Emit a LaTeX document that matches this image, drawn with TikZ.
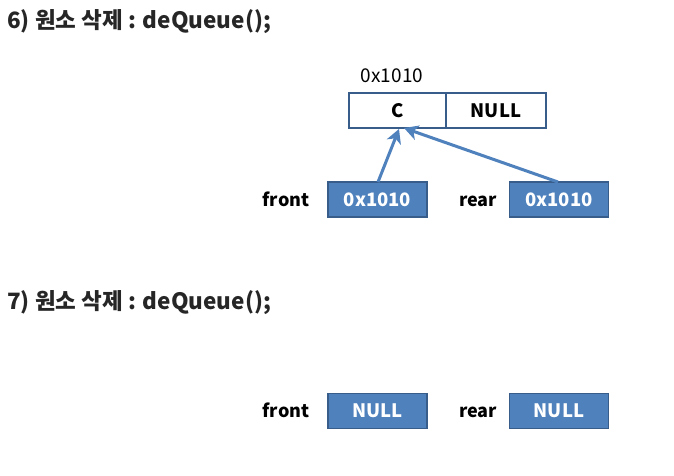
\documentclass[tikz,border=0pt]{standalone}
\usepackage{fontspec}
\setmainfont{Noto Sans CJK KR}
\usetikzlibrary{arrows.meta}
\definecolor{boxblue}{HTML}{4F81BD}
\definecolor{boxedge}{HTML}{385D8A}
\definecolor{titlegray}{HTML}{262626}
\tikzset{
  ptrbox/.style={draw=boxedge, line width=1.2pt, fill=boxblue, text=white, font=\fontsize{18.5}{20}\selectfont\bfseries, minimum width=99pt, minimum height=35pt, inner sep=0pt},
  cellbox/.style={draw=boxedge, line width=1.2pt, fill=white, text=black, font=\fontsize{18.5}{20}\selectfont\bfseries, minimum height=35pt, inner sep=0pt},
  lbl/.style={font=\fontsize{18}{20}\selectfont\bfseries, text=black, inner sep=0pt, anchor=base},
  title/.style={font=\fontsize{22.5}{26}\selectfont\bfseries, text=titlegray, inner sep=0pt, anchor=west},
  ptr/.style={draw=boxblue, line width=3pt, -{Stealth[length=14pt,width=15pt,inset=4pt]}}
}
\begin{document}
\begin{tikzpicture}[x=1pt,y=-1pt]
\useasboundingbox (0,0) rectangle (674,475);
\node[title] (t6) at (7,22) {6) 원소 삭제 : deQueue();};
\node[title] (t7) at (7,303) {7) 원소 삭제 : deQueue();};
% node
\node[cellbox, minimum width=97pt] (c) at (397.5,110.5) {C};
\node[cellbox, minimum width=100pt] (n) at (496,110.5) {NULL};
\node[font=\fontsize{19}{20}\selectfont, inner sep=0pt] (addr) at (392,76) {0x1010};
% pointers step 6
\node[lbl] (f6) at (286,206) {front};
\node[ptrbox] (fb6) at (377.5,199.5) {0x1010};
\node[lbl] (r6) at (478,206) {rear};
\node[ptrbox] (rb6) at (559,199.5) {0x1010};
\coordinate (fs) at (378,182);
\coordinate (fe) at (399,129);
\coordinate (rs) at (558,182);
\coordinate (re) at (404,128);
\draw[ptr] (fs) -- (fe);
\draw[ptr] (rs) -- (re);
% step 7
\node[lbl] (f7) at (286,417) {front};
\node[ptrbox] (fb7) at (377.5,411) {NULL};
\node[lbl] (r7) at (478,417) {rear};
\node[ptrbox] (rb7) at (559,411) {NULL};
\end{tikzpicture}
\end{document}
